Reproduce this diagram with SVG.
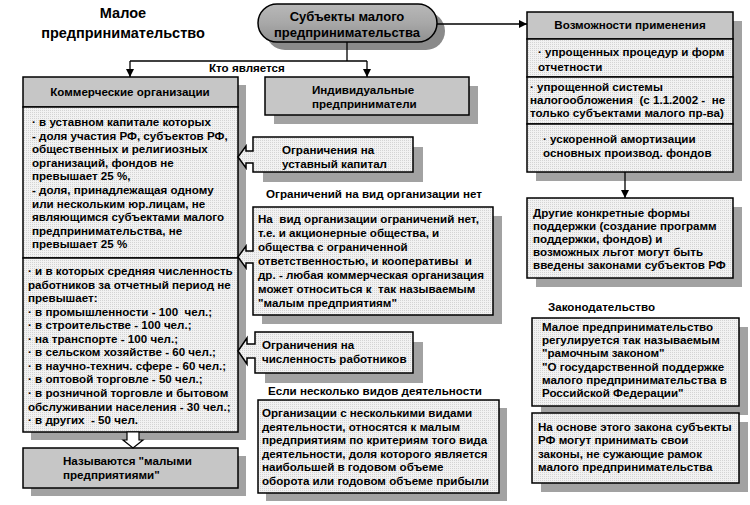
<svg xmlns="http://www.w3.org/2000/svg" width="750" height="505" viewBox="0 0 750 505">
<defs>
<pattern id="dots" width="2" height="2" patternUnits="userSpaceOnUse"><rect width="2" height="2" fill="#f2f2f2"/><rect width="1" height="1" fill="#d4d4d4"/></pattern>
<linearGradient id="pillg" x1="0" y1="0" x2="0" y2="1"><stop offset="0" stop-color="#b8b8b8"/><stop offset="0.5" stop-color="#a8a8a8"/><stop offset="1" stop-color="#909090"/></linearGradient>
<marker id="ah" markerWidth="8" markerHeight="8" refX="8" refY="4" orient="auto" markerUnits="userSpaceOnUse"><path d="M0,0 L8,4 L0,8 Z" fill="#000"/></marker>
</defs>
<style>
.t{font-family:"Liberation Sans",Arial,sans-serif;font-weight:bold;font-size:11.6px;fill:#000}
.ttl{font-size:14.5px}
.pt{font-size:13px}
.c{text-anchor:middle}
.pre{white-space:pre}
.box{fill:url(#dots);stroke:#000;stroke-width:1.5}
.hdr{fill:#c6c6c6;stroke:#000;stroke-width:1.5}
.sh{fill:#a2a2a2}
.ln{fill:none;stroke:#000;stroke-width:1.3}
.hol{fill:#fff;stroke:#000;stroke-width:1.2}
</style>
<rect width="750" height="505" fill="#fff"/>

<g id="title">
<text class="t ttl c" x="123" y="18">Малое</text>
<text class="t ttl c" x="123" y="38">предпринимательство</text>
</g>

<g id="subjects">
<rect x="266" y="12" width="179" height="38" rx="19" fill="#8a8a8a"/>
<rect x="258" y="4" width="179" height="38" rx="19" fill="url(#pillg)" stroke="#000" stroke-width="1.5"/>
<text class="t pt c" x="347" y="21">Субъекты малого</text>
<text class="t pt c" x="347" y="37">предпринимательства</text>
</g>

<g id="commercial">
<rect class="sh" x="31" y="85" width="215" height="355"/>
<rect class="hdr" x="23" y="77" width="215" height="30"/>
<rect class="box" x="23" y="107" width="215" height="151"/>
<rect class="box" x="23" y="258" width="215" height="174"/>
<text class="t c" x="130" y="96">Коммерческие организации</text>
<text class="t" x="32" y="126">
<tspan x="32">· в уставном капитале которых</tspan>
<tspan x="32" dy="13.6">- доля участия РФ, субъектов РФ,</tspan>
<tspan x="32" dy="13.6">общественных и религиозных</tspan>
<tspan x="32" dy="13.6">организаций, фондов не</tspan>
<tspan x="32" dy="13.6">превышает 25 %,</tspan>
<tspan x="32" dy="13.6">- доля, принадлежащая одному</tspan>
<tspan x="32" dy="13.6">или нескольким юр.лицам, не</tspan>
<tspan x="32" dy="13.6">являющимся субъектами малого</tspan>
<tspan x="32" dy="13.6">предпринимательства, не</tspan>
<tspan x="32" dy="13.6">превышает 25 %</tspan>
</text>
<text class="t" x="28" y="275">
<tspan x="28">· и в которых средняя численность</tspan>
<tspan x="28" dy="13.55">работников за отчетный период не</tspan>
<tspan x="28" dy="13.55">превышает:</tspan>
<tspan x="28" dy="13.55" class="pre">· в промышленности - 100  чел.;</tspan>
<tspan x="28" dy="13.55">· в строительстве - 100 чел.;</tspan>
<tspan x="28" dy="13.55">· на транспорте - 100 чел.;</tspan>
<tspan x="28" dy="13.55">· в сельском хозяйстве - 60 чел.;</tspan>
<tspan x="28" dy="13.55">· в научно-технич. сфере - 60 чел.;</tspan>
<tspan x="28" dy="13.55">· в оптовой торговле - 50 чел.;</tspan>
<tspan x="28" dy="13.55">· в розничной торговле и бытовом</tspan>
<tspan x="28" dy="13.55">обслуживании населения - 30 чел.;</tspan>
<tspan x="28" dy="13.55" class="pre">· в других  - 50 чел.</tspan>
</text>
</g>

<g id="small-enterprises">
<rect class="sh" x="31" y="456" width="215" height="40"/>
<rect class="hdr" x="23" y="448" width="215" height="40"/>
<text class="t" x="63" y="465">Называются "малыми</text>
<text class="t" x="63" y="479">предприятиями"</text>
</g>

<g id="individual">
<rect class="sh" x="274" y="86" width="204" height="38"/>
<rect class="hdr" x="265" y="77" width="204" height="38"/>
<text class="t" x="312" y="94">Индивидуальные</text>
<text class="t" x="312" y="108">предприниматели</text>
</g>

<g id="capital-limit">
<rect class="sh" x="263" y="147" width="160" height="35"/>
<path class="box" d="M253,137 H413 V172 H253 V163 H246 V168 L238,157 L246,146 V151 H253 Z"/>
<text class="t" x="282" y="154">Ограничения на</text>
<text class="t" x="282" y="168">уставный капитал</text>
</g>

<g id="type-limit">
<text class="t c" x="374" y="198">Ограничений на вид организации нет</text>
<rect class="sh" x="262" y="216" width="240" height="108"/>
<path class="box" d="M253,207 H493 V315 H253 V263 H246 V268 L238,257 L246,246 V251 H253 Z"/>
<text class="t" x="258" y="223">
<tspan x="258" class="pre">На  вид организации ограничений нет,</tspan>
<tspan x="258" dy="14">т.е. и акционерные общества, и</tspan>
<tspan x="258" dy="14">общества с ограниченной</tspan>
<tspan x="258" dy="14" class="pre">ответственностью, и кооперативы  и</tspan>
<tspan x="258" dy="14">др. - любая коммерческая организация</tspan>
<tspan x="258" dy="14" class="pre">может относиться к  так называемым</tspan>
<tspan x="258" dy="14">"малым предприятиям"</tspan>
</text>
</g>

<g id="staff-limit">
<rect class="sh" x="265" y="342" width="158" height="41"/>
<path class="box" d="M255,332 H413 V373 H255 V358 H247 V364 L238,351 L247,338 V344 H255 Z"/>
<text class="t" x="262" y="349">Ограничения на</text>
<text class="t" x="262" y="363">численность работников</text>
</g>

<g id="several-activities">
<text class="t c" x="375" y="395">Если несколько видов деятельности</text>
<rect class="sh" x="266" y="408" width="241" height="93"/>
<rect class="box" x="258" y="400" width="241" height="93"/>
<text class="t" x="262" y="417">
<tspan x="262">Организации с несколькими видами</tspan>
<tspan x="262" dy="13.6">деятельности, относятся к малым</tspan>
<tspan x="262" dy="13.6">предприятиям по критериям того вида</tspan>
<tspan x="262" dy="13.6">деятельности, доля которого является</tspan>
<tspan x="262" dy="13.6">наибольшей в годовом объеме</tspan>
<tspan x="262" dy="13.6">оборота или годовом объеме прибыли</tspan>
</text>
</g>

<g id="opportunities">
<rect class="sh" x="536" y="21" width="206" height="160"/>
<rect class="hdr" x="527" y="12" width="206" height="27"/>
<rect class="box" x="527" y="39" width="206" height="38"/>
<rect class="box" x="527" y="77" width="206" height="47"/>
<rect class="box" x="527" y="124" width="206" height="48"/>
<text class="t c" x="630" y="29">Возможности применения</text>
<text class="t" x="538" y="56">· упрощенных процедур и форм</text>
<text class="t" x="538" y="71">отчетности</text>
<text class="t" x="530" y="91">· упрощенной системы</text>
<text class="t pre" x="530" y="104">налогообложения  (с 1.1.2002 -  не</text>
<text class="t" x="530" y="117">только субъектами малого пр-ва)</text>
<text class="t" x="543" y="143">· ускоренной амортизации</text>
<text class="t" x="543" y="157">основных производ. фондов</text>
</g>

<g id="other-forms">
<rect class="sh" x="536" y="207" width="206" height="80"/>
<rect class="box" x="527" y="198" width="206" height="80"/>
<text class="t" x="533" y="217">
<tspan x="533">Другие конкретные формы</tspan>
<tspan x="533" dy="13">поддержки (создание программ</tspan>
<tspan x="533" dy="13">поддержки, фондов) и</tspan>
<tspan x="533" dy="13">возможных льгот могут быть</tspan>
<tspan x="533" dy="13">введены законами субъектов РФ</tspan>
</text>
</g>

<g id="legislation">
<text class="t" x="548" y="311">Законодательство</text>
<rect class="sh" x="541" y="327" width="207" height="88"/>
<rect class="box" x="532" y="318" width="207" height="88"/>
<text class="t" x="542" y="331">
<tspan x="542">Малое предпринимательство</tspan>
<tspan x="542" dy="13.2">регулируется так называемым</tspan>
<tspan x="542" dy="13.2">"рамочным законом"</tspan>
<tspan x="542" dy="13.2">"О государственной поддержке</tspan>
<tspan x="542" dy="13.2">малого предпринимательства в</tspan>
<tspan x="542" dy="13.2">Российской Федерации"</tspan>
</text>
</g>

<g id="regional-laws">
<rect class="sh" x="541" y="422" width="207" height="70"/>
<rect class="box" x="532" y="413" width="207" height="70"/>
<text class="t" x="538" y="431">
<tspan x="538">На основе этого закона субъекты</tspan>
<tspan x="538" dy="13.3">РФ могут принимать свои</tspan>
<tspan x="538" dy="13.3">законы, не сужающие рамок</tspan>
<tspan x="538" dy="13.3">малого предпринимательства</tspan>
</text>
</g>

<g id="connectors">
<path class="ln" d="M347,42 V61"/>
<path class="ln" d="M130,61 H367"/>
<path class="ln" d="M130,61 V77" marker-end="url(#ah)"/>
<path class="ln" d="M367,61 V77" marker-end="url(#ah)"/>
<text class="t" x="209" y="72">Кто является</text>
<path class="ln" d="M437,24 H527" marker-end="url(#ah)"/>
<path class="ln" d="M625,172 V198" marker-end="url(#ah)"/>
<path class="hol" d="M127,432 H139 V440 H143 L133,448 L123,440 H127 Z"/>
</g>
</svg>
